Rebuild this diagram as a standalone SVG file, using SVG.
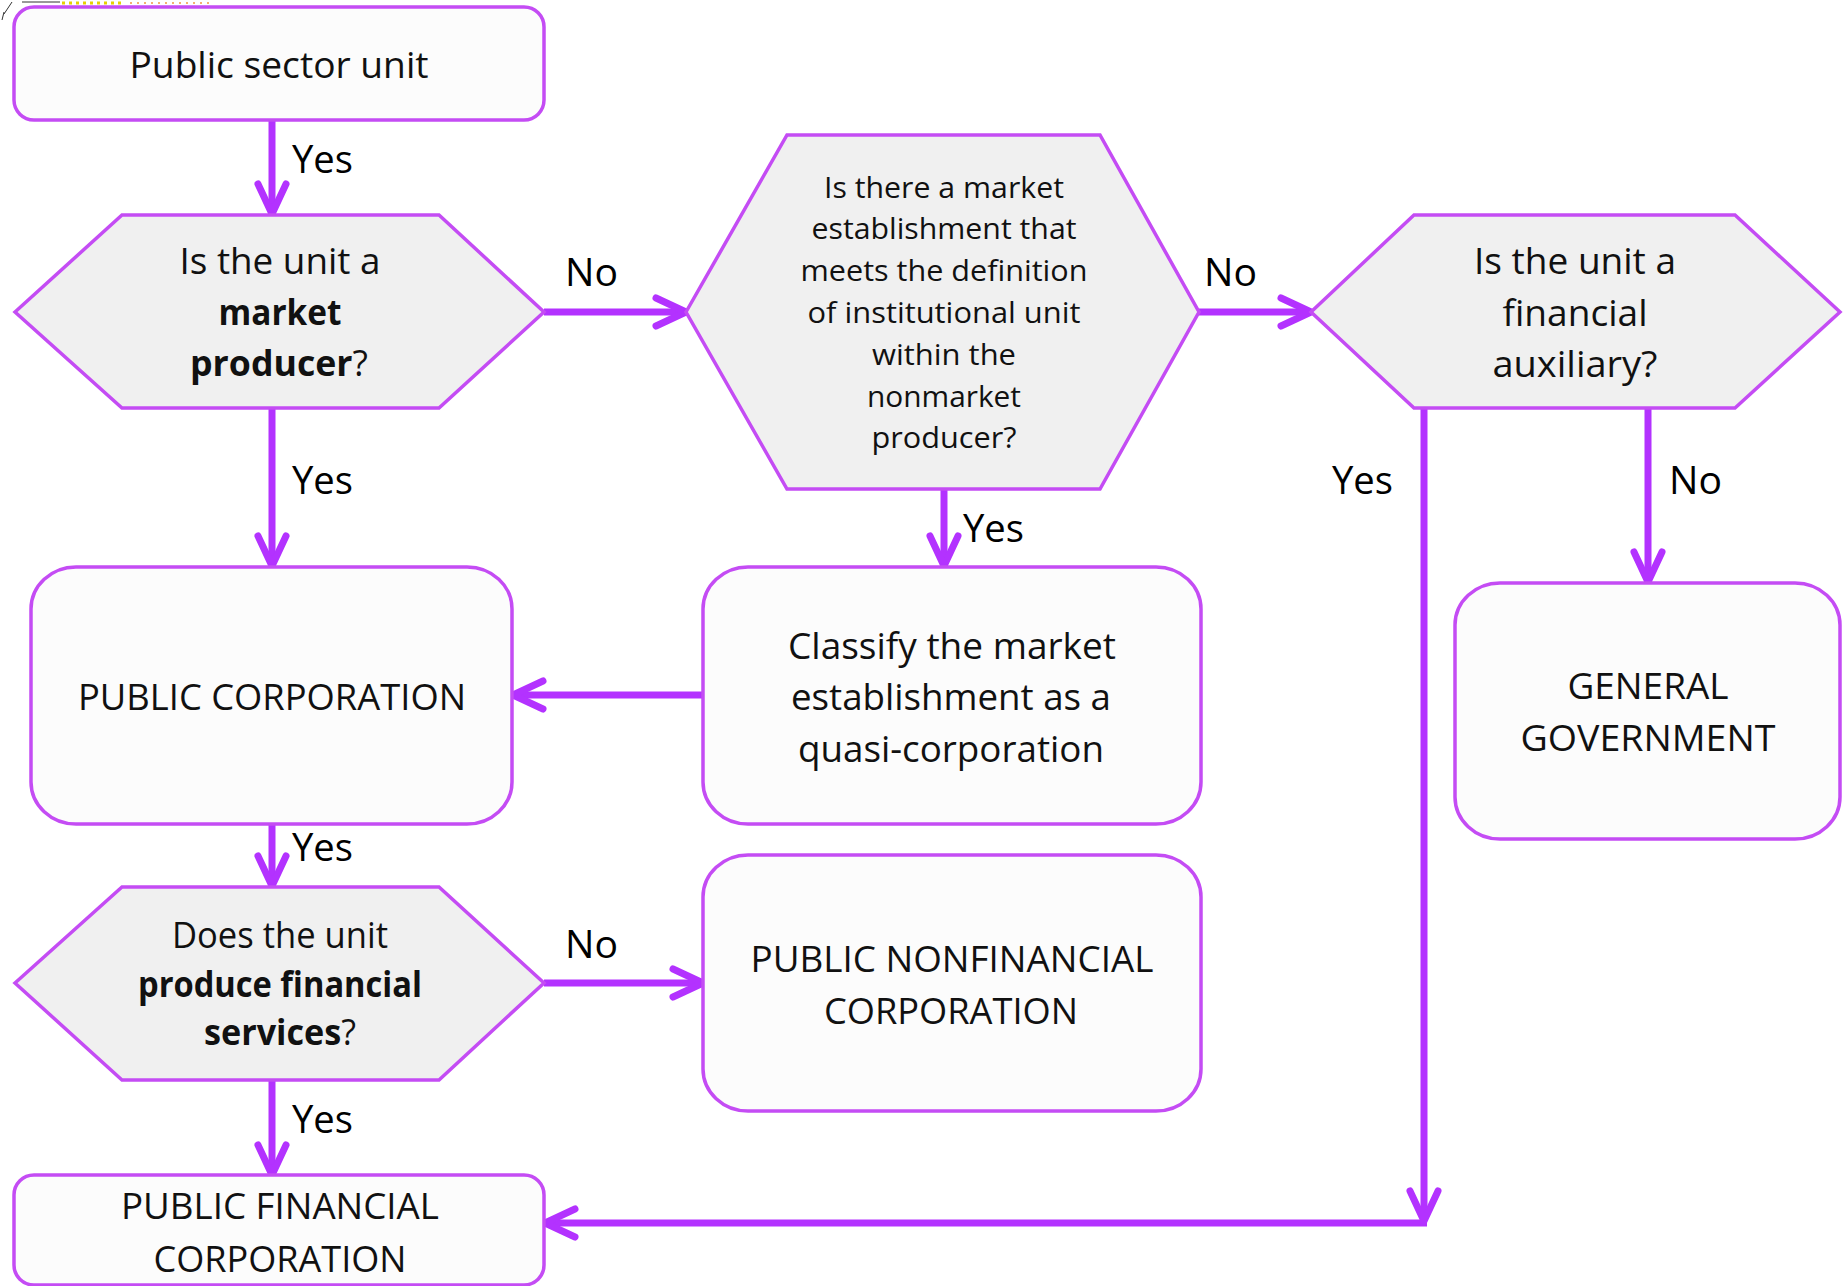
<svg xmlns="http://www.w3.org/2000/svg" width="1846" height="1286" viewBox="0 0 1846 1286">
<defs>
<style>
.box{fill:#fcfcfc;stroke:#c44cf4;stroke-width:3.5}
.hex{fill:#f0f0f0;stroke:#c44cf4;stroke-width:3.5}
.t{font-family:"Open Sans","Liberation Sans",sans-serif;font-size:36px;fill:#111;text-anchor:middle}
.s{font-size:29px}
.b{font-weight:bold}
.lbl{font-family:"Open Sans","Liberation Sans",sans-serif;font-size:38px;fill:#000}
.c{fill:none;stroke:#b332ff;stroke-width:7;marker-end:url(#ah)}
</style>
<marker id="ah" markerUnits="userSpaceOnUse" viewBox="-40 -25 50 50" markerWidth="50" markerHeight="50" refX="0" refY="0" orient="auto">
<path d="M-30,-14 L0,0 L-30,14" fill="none" stroke="#b332ff" stroke-width="7" stroke-linecap="round" stroke-linejoin="round"/>
</marker>
</defs>
<rect width="1846" height="1286" fill="#ffffff"/>
<g id="artifact">
<line x1="62" y1="3" x2="125" y2="3" stroke="#e8d000" stroke-width="3" stroke-dasharray="3 4"/>
<line x1="130" y1="3" x2="210" y2="3" stroke="#f5b070" stroke-width="2" stroke-dasharray="2 5"/>
<path d="M12,2 L4,14 M4,12 L2,20 M22,2 L60,2" fill="none" stroke="#333" stroke-width="1"/>
</g>
<g id="connectors">
<path class="c" d="M272,121 V214"/>
<path class="c" d="M544,312 H686"/>
<path class="c" d="M1199,312 H1311"/>
<path class="c" d="M272,408 V566"/>
<path class="c" d="M944,489 V566"/>
<path class="c" d="M703,695 H513"/>
<path class="c" d="M1648,408 V582"/>
<path class="c" d="M1424,408 V1221"/>
<path class="c" d="M1427,1223 H545"/>
<path class="c" d="M272,824 V886"/>
<path class="c" d="M544,983 H703"/>
<path class="c" d="M272,1080 V1175"/>
<text class="lbl" x="292" y="173" textLength="61" lengthAdjust="spacingAndGlyphs">Yes</text>
<text class="lbl" x="565" y="286" textLength="53" lengthAdjust="spacingAndGlyphs">No</text>
<text class="lbl" x="1204" y="286" textLength="53" lengthAdjust="spacingAndGlyphs">No</text>
<text class="lbl" x="292" y="494" textLength="61" lengthAdjust="spacingAndGlyphs">Yes</text>
<text class="lbl" x="1332" y="494" textLength="61" lengthAdjust="spacingAndGlyphs">Yes</text>
<text class="lbl" x="1669" y="494" textLength="53" lengthAdjust="spacingAndGlyphs">No</text>
<text class="lbl" x="963" y="542" textLength="61" lengthAdjust="spacingAndGlyphs">Yes</text>
<text class="lbl" x="292" y="861" textLength="61" lengthAdjust="spacingAndGlyphs">Yes</text>
<text class="lbl" x="565" y="958" textLength="53" lengthAdjust="spacingAndGlyphs">No</text>
<text class="lbl" x="292" y="1133" textLength="61" lengthAdjust="spacingAndGlyphs">Yes</text>
</g>
<g id="public-sector-unit">
<rect class="box" x="14" y="7" width="530" height="113" rx="20" ry="20"/>
<text class="t" x="279" y="78" textLength="299" lengthAdjust="spacingAndGlyphs">Public sector unit</text>
</g>
<g id="market-producer">
<polygon class="hex" points="15,312 122,215 439,215 544,312 439,408 122,408"/>
<text class="t" x="280" y="274" textLength="201" lengthAdjust="spacingAndGlyphs">Is the unit a</text>
<text class="t b" x="280" y="325" textLength="123" lengthAdjust="spacingAndGlyphs">market</text>
<text class="t" x="279" y="376" textLength="178" lengthAdjust="spacingAndGlyphs"><tspan class="b">producer</tspan>?</text>
</g>
<g id="market-establishment">
<polygon class="hex" points="686,312 787,135 1100,135 1199,312 1100,489 787,489"/>
<text class="t s" x="944" y="198" textLength="240" lengthAdjust="spacingAndGlyphs">Is there a market</text>
<text class="t s" x="944" y="239" textLength="265" lengthAdjust="spacingAndGlyphs">establishment that</text>
<text class="t s" x="944" y="281" textLength="287" lengthAdjust="spacingAndGlyphs">meets the definition</text>
<text class="t s" x="944" y="323" textLength="273" lengthAdjust="spacingAndGlyphs">of institutional unit</text>
<text class="t s" x="944" y="365" textLength="144" lengthAdjust="spacingAndGlyphs">within the</text>
<text class="t s" x="944" y="407" textLength="154" lengthAdjust="spacingAndGlyphs">nonmarket</text>
<text class="t s" x="944" y="448" textLength="145" lengthAdjust="spacingAndGlyphs">producer?</text>
</g>
<g id="financial-auxiliary">
<polygon class="hex" points="1311,312 1414,215 1735,215 1840,312 1735,408 1414,408"/>
<text class="t" x="1575" y="274" textLength="202" lengthAdjust="spacingAndGlyphs">Is the unit a</text>
<text class="t" x="1575" y="326" textLength="145" lengthAdjust="spacingAndGlyphs">financial</text>
<text class="t" x="1575" y="377" textLength="165" lengthAdjust="spacingAndGlyphs">auxiliary?</text>
</g>
<g id="public-corporation">
<rect class="box" x="31" y="567" width="481" height="257" rx="45" ry="42"/>
<text class="t" x="272" y="710" textLength="388" lengthAdjust="spacingAndGlyphs">PUBLIC CORPORATION</text>
</g>
<g id="quasi-corporation">
<rect class="box" x="703" y="567" width="498" height="257" rx="45" ry="42"/>
<text class="t" x="952" y="659" textLength="328" lengthAdjust="spacingAndGlyphs">Classify the market</text>
<text class="t" x="951" y="710" textLength="320" lengthAdjust="spacingAndGlyphs">establishment as a</text>
<text class="t" x="951" y="762" textLength="306" lengthAdjust="spacingAndGlyphs">quasi-corporation</text>
</g>
<g id="general-government">
<rect class="box" x="1455" y="583" width="385" height="256" rx="45" ry="42"/>
<text class="t" x="1648" y="699" textLength="161" lengthAdjust="spacingAndGlyphs">GENERAL</text>
<text class="t" x="1648" y="751" textLength="255" lengthAdjust="spacingAndGlyphs">GOVERNMENT</text>
</g>
<g id="financial-services">
<polygon class="hex" points="15,983 122,887 439,887 544,983 439,1080 122,1080"/>
<text class="t" x="280" y="948" textLength="216" lengthAdjust="spacingAndGlyphs">Does the unit</text>
<text class="t b" x="280" y="997" textLength="284" lengthAdjust="spacingAndGlyphs">produce financial</text>
<text class="t" x="280" y="1045" textLength="152" lengthAdjust="spacingAndGlyphs"><tspan class="b">services</tspan>?</text>
</g>
<g id="public-nonfinancial-corporation">
<rect class="box" x="703" y="855" width="498" height="256" rx="45" ry="42"/>
<text class="t" x="952" y="972" textLength="403" lengthAdjust="spacingAndGlyphs">PUBLIC NONFINANCIAL</text>
<text class="t" x="951" y="1024" textLength="254" lengthAdjust="spacingAndGlyphs">CORPORATION</text>
</g>
<g id="public-financial-corporation">
<rect class="box" x="14" y="1175" width="530" height="110" rx="20" ry="20"/>
<text class="t" x="280" y="1219" textLength="318" lengthAdjust="spacingAndGlyphs">PUBLIC FINANCIAL</text>
<text class="t" x="280" y="1272" textLength="253" lengthAdjust="spacingAndGlyphs">CORPORATION</text>
</g>
</svg>
